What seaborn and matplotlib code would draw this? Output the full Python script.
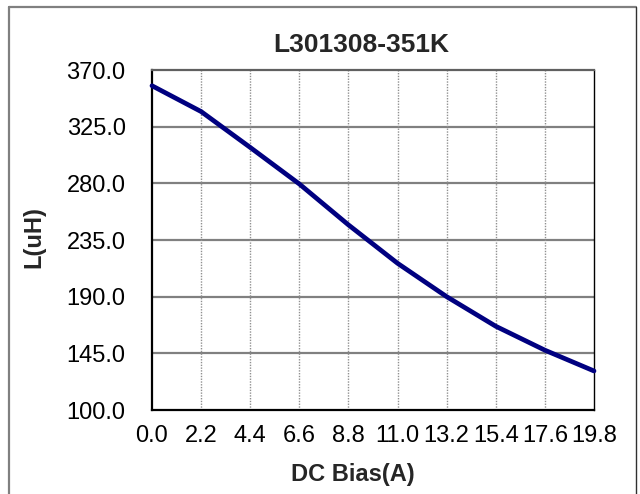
import matplotlib
matplotlib.use("Agg")
import matplotlib.pyplot as plt
from matplotlib.lines import Line2D
import seaborn as sns
import pandas as pd

# Data
dc_bias = [0.0, 2.2, 4.4, 6.6, 8.8, 11.0, 13.2, 15.4, 17.6, 19.8]
inductance = [357.5, 337.0, 308.5, 279.5, 247.0, 216.5, 190.0, 166.5, 147.5, 131.0]
x_ticks = [0.0, 2.2, 4.4, 6.6, 8.8, 11.0, 13.2, 15.4, 17.6, 19.8]
y_ticks = [100.0, 145.0, 190.0, 235.0, 280.0, 325.0, 370.0]
title = "L301308-351K"
x_label = "DC Bias(A)"
y_label = "L(uH)"

sns.set_style("white")
plt.rcParams["font.family"] = ["Liberation Sans", "DejaVu Sans"]

W, H = 640, 494
fig = plt.figure(figsize=(W / 100, H / 100), dpi=100)
ax = fig.add_axes([152 / W, 1 - 410 / H, (594 - 152) / W, (410 - 70) / H])

df = pd.DataFrame({"x": dc_bias, "y": inductance})
sns.lineplot(data=df, x="x", y="y", ax=ax, color="#000080", linewidth=3.4,
             zorder=5, clip_on=False)

ax.set_xlim(x_ticks[0], x_ticks[-1])
ax.set_ylim(y_ticks[0], y_ticks[-1])
ax.set_xticks(x_ticks)
ax.set_xticklabels([f"{v:.1f}" for v in x_ticks])
ax.set_yticks(y_ticks)
ax.set_yticklabels([f"{v:.1f}" for v in y_ticks])
ax.set_xlabel("")
ax.set_ylabel("")

# grid
for yv in y_ticks[1:-1]:
    ax.axhline(yv, color="#808080", linewidth=1.6, zorder=1)
for xv in x_ticks[1:-1]:
    ax.axvline(xv, color="#909090", linewidth=1.0, linestyle=(0, (1, 1)), zorder=1)

ax.tick_params(axis="both", direction="in", length=6, width=1.4, color="black",
               labelsize=17, labelcolor="black")
ax.tick_params(axis="y", pad=19)
ax.tick_params(axis="x", pad=11)

for s in ["left", "bottom"]:
    ax.spines[s].set_color("black")
    ax.spines[s].set_linewidth(1.6)
ax.spines["top"].set_color("#606060")
ax.spines["top"].set_linewidth(1.6)
ax.spines["right"].set_color("black")
ax.spines["right"].set_linewidth(1.0)
ax.spines["right"].set_linestyle((0, (1, 1)))

fig.text(361 / W, 1 - 52 / H, title, ha="center", va="baseline",
         fontsize=19, fontweight="bold")
fig.text(353 / W, 1 - 481 / H, x_label, ha="center", va="baseline",
         fontsize=17, fontweight="bold")
fig.text(34 / W, 1 - 237 / H, y_label, ha="center", va="center",
         rotation=90, fontsize=17, fontweight="bold")

# outer chart border
fig.add_artist(Line2D([8.5 / W, 8.5 / W], [0, 1 - 7 / H], transform=fig.transFigure,
                      color="#808080", linewidth=1.6))
fig.add_artist(Line2D([8.5 / W, 636 / W], [1 - 7 / H, 1 - 7 / H], transform=fig.transFigure,
                      color="#808080", linewidth=1.6))
fig.add_artist(Line2D([636 / W, 636 / W], [0, 1 - 7 / H], transform=fig.transFigure,
                      color="#303030", linewidth=1.0))

fig.savefig("out.png", dpi=100)
